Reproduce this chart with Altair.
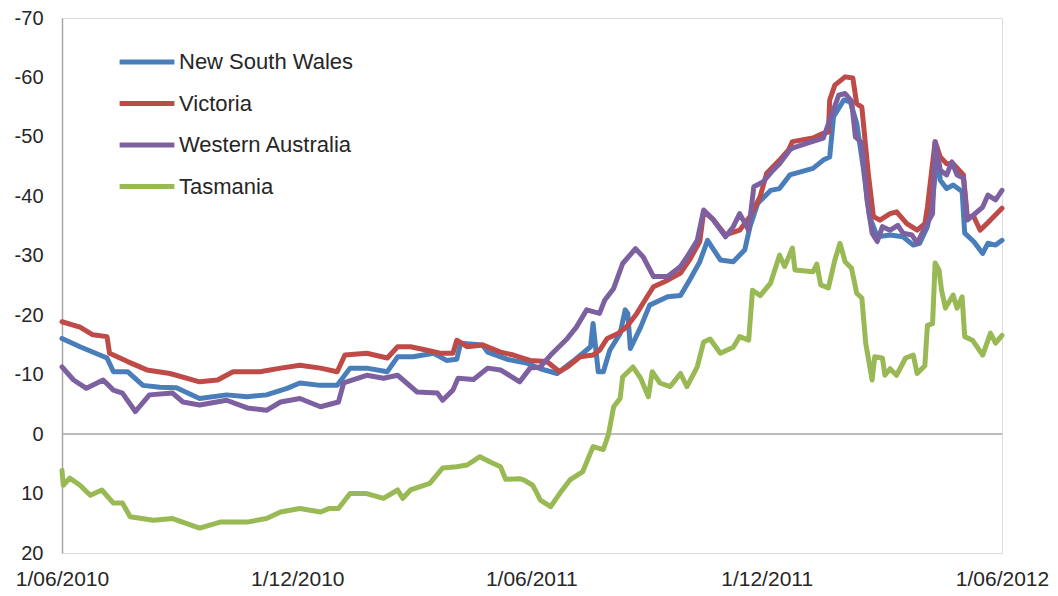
import altair as alt
import pandas as pd

START = "2010-06-01"

# days elapsed since 1/06/2010 and index values (negative = upper part of reversed axis)
nsw_days = [0, 14, 35, 40, 51, 63, 76, 89, 107, 128, 144, 159, 175, 185, 201, 214, 224, 237, 253, 261, 273, 289, 299, 307, 310, 327, 331, 346, 362, 372, 385, 397, 405, 411, 413, 417, 421, 426, 434, 438, 440, 442, 450, 457, 471, 481, 488, 496, 502, 512, 522, 531, 535, 541, 551, 558, 566, 584, 592, 597, 600, 608, 613, 618, 623, 628, 634, 644, 654, 662, 667, 673, 677, 681, 683, 688, 693, 700, 702, 709, 716, 720, 726, 731]
nsw_vals = [-16.1, -14.7, -12.8, -10.5, -10.5, -8.2, -7.9, -7.8, -6.0, -6.6, -6.3, -6.6, -7.7, -8.6, -8.2, -8.2, -11.1, -11.1, -10.5, -13.0, -13.0, -13.6, -12.4, -12.6, -15.3, -15.0, -13.8, -12.6, -11.9, -11.0, -10.2, -12.2, -13.6, -14.7, -18.6, -10.5, -10.5, -14.1, -16.9, -20.9, -20.3, -14.4, -18.0, -21.7, -23.1, -23.3, -25.9, -29.0, -32.6, -29.3, -29.0, -31.0, -34.9, -38.8, -41.0, -41.3, -43.6, -44.7, -46.1, -46.6, -53.4, -56.2, -55.9, -52.3, -45.0, -36.6, -33.2, -33.5, -33.2, -31.8, -32.1, -34.9, -39.4, -47.5, -42.7, -41.3, -41.9, -40.8, -33.8, -32.4, -30.4, -32.1, -31.8, -32.6]

vic_days = [0, 14, 24, 35, 37, 51, 66, 84, 107, 121, 133, 154, 170, 185, 201, 214, 220, 237, 253, 261, 271, 284, 294, 304, 307, 315, 327, 341, 351, 364, 377, 387, 393, 403, 413, 418, 424, 432, 439, 447, 455, 460, 471, 481, 488, 496, 499, 506, 516, 527, 535, 543, 548, 558, 565, 568, 584, 592, 596, 597, 601, 609, 615, 618, 622, 627, 631, 636, 644, 649, 657, 665, 671, 673, 679, 683, 688, 693, 701, 704, 709, 714, 722, 731]
vic_vals = [-18.9, -18.0, -16.7, -16.4, -13.6, -12.2, -10.8, -10.2, -8.8, -9.1, -10.5, -10.5, -11.1, -11.6, -11.1, -10.5, -13.3, -13.6, -12.8, -14.7, -14.7, -14.1, -13.6, -13.6, -15.8, -14.7, -15.0, -13.8, -13.3, -12.4, -12.2, -10.5, -11.3, -13.0, -13.3, -14.1, -16.1, -16.9, -18.0, -20.3, -23.1, -24.8, -25.9, -27.1, -29.3, -32.4, -37.4, -36.2, -33.5, -34.3, -36.6, -40.0, -43.9, -46.1, -47.8, -49.2, -49.8, -50.6, -50.8, -56.2, -58.7, -60.1, -59.9, -55.6, -55.0, -43.9, -36.6, -36.0, -37.1, -37.4, -35.4, -34.3, -35.4, -38.2, -49.2, -46.6, -45.5, -45.5, -43.6, -36.6, -36.6, -34.3, -36.0, -38.0]

wa_days = [0, 9, 19, 32, 40, 47, 57, 68, 86, 94, 107, 128, 144, 159, 170, 185, 201, 215, 219, 237, 250, 261, 268, 276, 292, 296, 304, 308, 320, 331, 341, 356, 364, 372, 380, 393, 400, 408, 418, 422, 429, 436, 446, 452, 460, 471, 481, 486, 494, 499, 506, 516, 522, 527, 534, 538, 545, 553, 558, 566, 568, 579, 592, 597, 604, 609, 614, 617, 622, 626, 630, 634, 638, 644, 650, 654, 661, 665, 670, 677, 679, 683, 688, 692, 696, 701, 704, 709, 716, 720, 726, 731]
wa_vals = [-11.3, -9.1, -7.7, -9.1, -7.4, -6.9, -3.8, -6.6, -6.9, -5.4, -4.9, -5.7, -4.4, -4.0, -5.4, -6.0, -4.6, -5.4, -8.6, -9.9, -9.4, -9.9, -8.6, -7.1, -6.9, -5.7, -7.4, -9.4, -9.2, -11.1, -10.8, -8.8, -11.1, -11.3, -13.3, -16.1, -18.0, -20.9, -20.3, -22.5, -24.5, -28.7, -31.2, -29.8, -26.5, -26.5, -28.2, -29.8, -32.6, -37.7, -36.2, -33.2, -34.9, -37.1, -34.3, -41.6, -42.4, -44.4, -45.5, -47.8, -48.1, -48.9, -49.8, -52.8, -57.0, -57.3, -56.0, -50.0, -49.0, -39.4, -33.8, -32.4, -34.9, -34.3, -35.1, -33.8, -33.5, -32.1, -34.3, -37.1, -49.2, -44.4, -43.6, -45.8, -43.6, -43.1, -36.0, -36.9, -38.2, -40.2, -39.4, -41.0]

tas_days = [0, 1, 6, 14, 22, 31, 40, 47, 53, 71, 86, 107, 123, 144, 159, 170, 185, 201, 208, 215, 224, 237, 250, 261, 265, 271, 286, 296, 307, 315, 325, 333, 341, 345, 356, 359, 366, 368, 372, 380, 387, 395, 405, 413, 421, 425, 429, 434, 436, 444, 450, 456, 459, 465, 473, 481, 486, 494, 499, 504, 512, 522, 527, 534, 537, 543, 551, 558, 562, 568, 570, 584, 587, 590, 596, 601, 605, 609, 614, 618, 622, 625, 630, 632, 638, 640, 644, 649, 656, 662, 665, 671, 673, 677, 679, 682, 684, 687, 693, 696, 700, 702, 708, 716, 722, 726, 731]
tas_vals = [6.1, 8.6, 7.4, 8.6, 10.3, 9.4, 11.6, 11.6, 13.9, 14.5, 14.2, 15.8, 14.8, 14.8, 14.2, 13.1, 12.5, 13.1, 12.5, 12.5, 10.0, 10.0, 10.8, 9.4, 10.8, 9.4, 8.3, 5.7, 5.5, 5.2, 3.8, 4.7, 5.5, 7.6, 7.5, 7.7, 8.6, 9.4, 11.1, 12.2, 10.0, 7.7, 6.3, 2.1, 2.6, 0.0, -4.6, -6.0, -9.6, -11.3, -9.4, -6.3, -10.5, -8.6, -8.0, -10.2, -8.0, -11.3, -15.5, -16.0, -13.6, -14.6, -16.4, -15.8, -24.2, -23.3, -25.4, -30.1, -28.2, -31.3, -27.6, -27.3, -28.6, -25.1, -24.6, -29.3, -32.1, -29.0, -27.9, -23.7, -22.9, -15.3, -9.1, -13.0, -12.8, -9.9, -11.0, -9.9, -12.8, -13.3, -10.2, -11.5, -18.3, -18.6, -28.8, -27.6, -24.2, -21.2, -23.4, -21.2, -23.1, -16.4, -15.8, -13.3, -17.0, -15.3, -16.6]

series_names = ["New South Wales", "Victoria", "Western Australia", "Tasmania"]
series_colors = ["#4A7EBB", "#BE4B48", "#7D60A0", "#98B954"]
tick_dates = ["2010-06-01", "2010-12-01", "2011-06-01", "2011-12-01", "2012-06-01"]
y_ticks = [-70, -60, -50, -40, -30, -20, -10, 0, 10, 20]

rows = []
for name, days, vals in zip(series_names,
                            [nsw_days, vic_days, wa_days, tas_days],
                            [nsw_vals, vic_vals, wa_vals, tas_vals]):
    for d, v in zip(days, vals):
        dt = (pd.Timestamp(START) + pd.Timedelta(days=d)).strftime("%Y-%m-%d")
        rows.append({"series": name, "date": dt, "value": v})
df = pd.DataFrame(rows)


def dt(s):
    y, m, d = (int(p) for p in s.split("-"))
    return alt.DateTime(year=y, month=m, date=d, utc=True)


FONT = "Liberation Sans"
TXT = "#262626"
GRAY = "#A6A6A6"

x_enc = alt.X(
    "date:T",
    scale=alt.Scale(type="utc", domain=[dt(tick_dates[0]), dt(tick_dates[-1])]),
    axis=alt.Axis(
        values=[dt(t) for t in tick_dates],
        format="%-d/%m/%Y",
        title=None,
        domain=False,
        ticks=False,
        grid=False,
        labelFontSize=21,
        labelPadding=15,
        labelColor=TXT,
        labelFont=FONT,
        labelFlush=False,
        labelOverlap=False,
    ),
)
y_enc = alt.Y(
    "value:Q",
    scale=alt.Scale(domain=[-70, 20], reverse=True, nice=False, zero=False),
    axis=alt.Axis(
        values=y_ticks,
        labelExpr="'' + datum.value",
        title=None,
        grid=False,
        ticks=False,
        domainColor=GRAY,
        domainWidth=1.5,
        labelFontSize=20,
        labelPadding=19,
        labelColor=TXT,
        labelFont=FONT,
    ),
)

zero_rule = alt.Chart(pd.DataFrame({"z": [0]})).mark_rule(
    color=GRAY, strokeWidth=1.5
).encode(y=alt.Y("z:Q", scale=alt.Scale(domain=[-70, 20], reverse=True, nice=False)))

lines = alt.Chart(df).mark_line(strokeWidth=5, strokeCap="round", strokeJoin="round").encode(
    x=x_enc,
    y=y_enc,
    color=alt.Color(
        "series:N",
        scale=alt.Scale(domain=series_names, range=series_colors),
        legend=alt.Legend(
            title=None,
            orient="none",
            legendX=55,
            legendY=14,
            symbolType="stroke",
            symbolSize=3000,
            symbolStrokeWidth=5,
            labelFontSize=22,
            labelFont=FONT,
            labelColor=TXT,
            labelOffset=2,
            labelLimit=400,
            rowPadding=0.5,
            padding=0,
        ),
    ),
    detail="series:N",
)

chart = alt.layer(zero_rule, lines).properties(
    width=940,
    height=535,
    autosize=alt.AutoSizeParams(type="none"),
    padding={"left": 54, "top": 10, "right": 48, "bottom": 35},
).configure_view(stroke=None).configure(background="white")

chart.save("out.html", embed_options={"renderer": "svg", "actions": False})
